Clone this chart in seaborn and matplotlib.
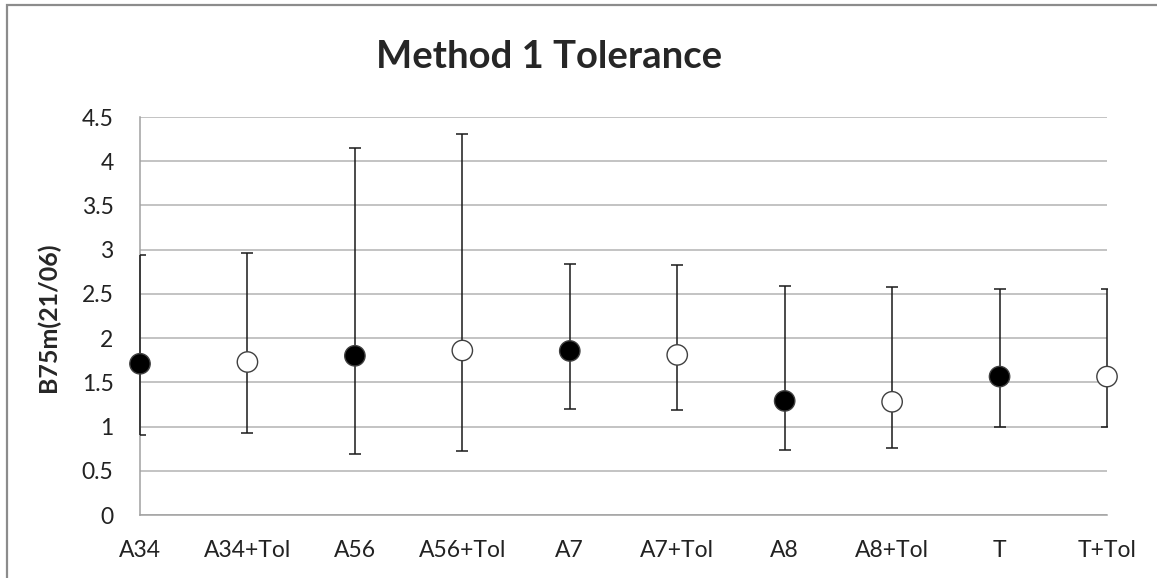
import matplotlib
matplotlib.use("Agg")
import matplotlib.pyplot as plt
import seaborn as sns
import pandas as pd
from matplotlib.patches import Rectangle

categorias = ["A34", "A34+Tol", "A56", "A56+Tol", "A7", "A7+Tol", "A8", "A8+Tol", "T", "T+Tol"]
media = [1.71, 1.73, 1.80, 1.86, 1.855, 1.81, 1.29, 1.28, 1.565, 1.565]
superior = [2.94, 2.96, 4.15, 4.31, 2.84, 2.83, 2.59, 2.58, 2.55, 2.55]
inferior = [0.905, 0.93, 0.69, 0.72, 1.20, 1.19, 0.74, 0.755, 1.00, 1.00]
grupo = ["base", "tol"] * 5
y_ticks = [0, 0.5, 1, 1.5, 2, 2.5, 3, 3.5, 4, 4.5]
y_labels = ["0", "0.5", "1", "1.5", "2", "2.5", "3", "3.5", "4", "4.5"]

df = pd.DataFrame({"cat": categorias, "media": media, "sup": superior,
                   "inf": inferior, "grupo": grupo})
df["x"] = range(len(df))

sns.set_style("white")
plt.rcParams["font.family"] = ["Lato", "DejaVu Sans"]

fig = plt.figure(figsize=(11.57, 5.78), dpi=100)
ax = fig.add_axes([140 / 1157, 1 - 515 / 578, (1107 - 140) / 1157, (515 - 117) / 578])

# barras de erro (recortadas pela area do grafico)
ax.errorbar(df["x"], df["media"],
            yerr=[df["media"] - df["inf"], df["sup"] - df["media"]],
            fmt="none", ecolor="#1a1a1a", elinewidth=1.1, capsize=4.5,
            capthick=1.1, zorder=3)

sns.scatterplot(data=df, x="x", y="media", hue="grupo",
                palette={"base": "black", "tol": "white"},
                edgecolor="#404040", linewidth=1.0, s=215,
                legend=False, zorder=4, ax=ax)
for col in ax.collections:
    col.set_clip_on(False)

ax.set_xlim(0, 9)
ax.set_ylim(0, 4.5)
ax.set_xticks(df["x"])
ax.set_xticklabels(categorias, fontsize=16.5, color="#222222")
ax.set_yticks(y_ticks)
ax.set_yticklabels(y_labels, fontsize=16.5, color="#222222")
ax.tick_params(axis="x", direction="in", length=8, width=1, color="#a0a0a0", pad=18)
ax.tick_params(axis="y", length=0, pad=19)
ax.yaxis.grid(True, color="#b3b3b3", linewidth=1.1)
ax.set_axisbelow(True)
ax.set_xlabel("")
ax.set_ylabel("B75m(21/06)", fontsize=18, fontweight="bold")
ax.yaxis.set_label_coords((60 - 140) / (1107 - 140), (515 - 317) / (515 - 117))
for lado in ["top", "right"]:
    ax.spines[lado].set_visible(False)
for lado in ["left", "bottom"]:
    ax.spines[lado].set_color("#a0a0a0")
    ax.spines[lado].set_linewidth(1.1)

fig.text(549 / 1157, 1 - 57 / 578, "Method 1 Tolerance", ha="center", va="center",
         fontsize=27.5, fontweight="bold")

# moldura externa
fig.patches.append(Rectangle((7 / 1157, -0.1), 1.2, 1 - 5 / 578 + 0.1,
                             transform=fig.transFigure, fill=False,
                             edgecolor="#8c8c8c", linewidth=1.6, zorder=0))

fig.savefig("out.png", dpi=100)
